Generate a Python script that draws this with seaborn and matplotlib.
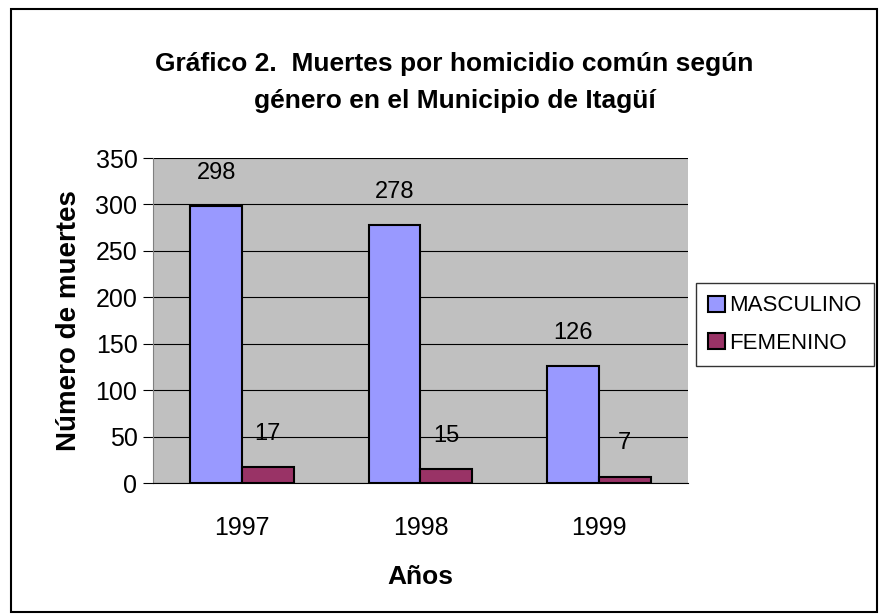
import matplotlib
matplotlib.use("Agg")
import matplotlib.pyplot as plt
import seaborn as sns
import pandas as pd
from matplotlib.patches import Rectangle

years = ["1997", "1998", "1999"]
masculino = [298, 278, 126]
femenino = [17, 15, 7]
series = ["MASCULINO", "FEMENINO"]

df = pd.DataFrame({
    "year": years * 2,
    "muertes": masculino + femenino,
    "genero": [series[0]] * 3 + [series[1]] * 3,
})

sns.set_style("white")
plt.rcParams["font.family"] = ["Liberation Sans", "DejaVu Sans"]
plt.rcParams.update({"text.color": "black", "axes.labelcolor": "black",
                     "xtick.color": "black", "ytick.color": "black"})

fig = plt.figure(figsize=(8.88, 6.15), dpi=100)
ax = fig.add_axes([0.172, 0.2146, 0.603, 0.5284])

sns.barplot(data=df, x="year", y="muertes", hue="genero", ax=ax,
            palette=["#9999FF", "#993366"], width=0.58,
            edgecolor="black", linewidth=1.5, saturation=1)

ax.set_facecolor("#C0C0C0")
ax.set_ylim(0, 350)
ax.set_yticks(range(0, 351, 50))
ax.yaxis.grid(True, color="black", linewidth=0.8)
ax.set_axisbelow(True)
for s in ["top", "right"]:
    ax.spines[s].set_visible(False)
ax.spines["left"].set_color("#808080")
ax.spines["bottom"].set_color("black")
ax.tick_params(axis="y", length=7, color="black", labelsize=18, left=True, pad=4)
ax.tick_params(axis="x", length=0, labelsize=18, pad=24)

for cont in ax.containers:
    ax.bar_label(cont, padding=16, fontsize=17, color="black")

ax.set_xlabel("Años", fontsize=19, fontweight="bold", labelpad=18)
ax.set_ylabel("Número de muertes", fontsize=20, fontweight="bold", labelpad=10)

leg = ax.legend(loc="upper left", bbox_to_anchor=(1.015, 0.615), fontsize=16,
                frameon=True, fancybox=False, edgecolor="black",
                handlelength=0.75, handleheight=0.75, handletextpad=0.2,
                labelspacing=0.75, borderpad=0.55, borderaxespad=0)
leg.get_frame().set_linewidth(1.0)

fig.text(0.512, 0.866, "Gráfico 2.  Muertes por homicidio común según\ngénero en el Municipio de Itagüí",
         ha="center", va="center", fontsize=19, fontweight="bold", linespacing=1.65)

fig.patches.append(Rectangle((0.012, 0.005), 0.976, 0.98, transform=fig.transFigure,
                             fill=False, edgecolor="black", linewidth=1.5))

fig.savefig("out.png", dpi=100)
